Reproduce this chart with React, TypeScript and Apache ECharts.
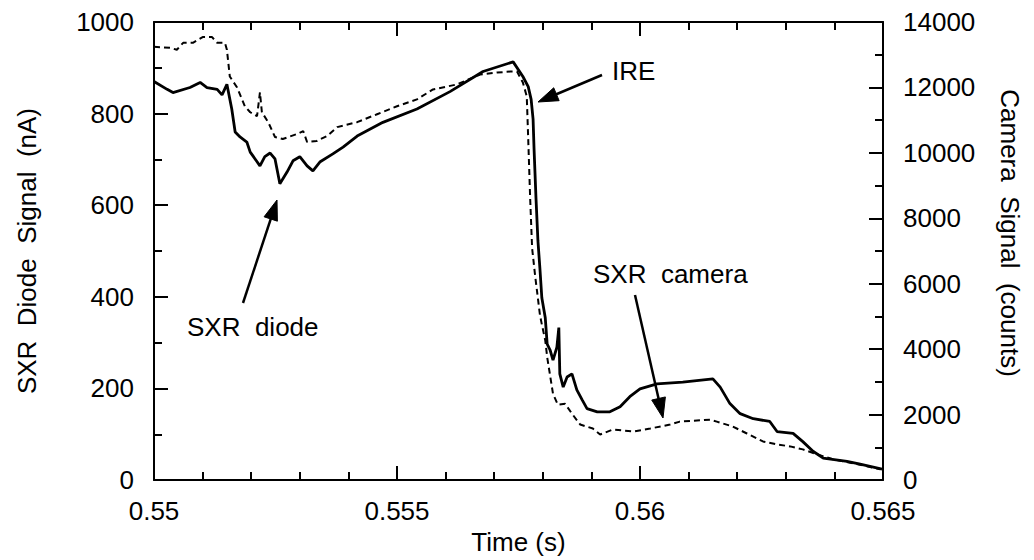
import React, { useEffect, useRef } from "react";
import * as echarts from "echarts";

// SXR diode signal (nA), left axis
const diodeTime = [
  0.55, 0.55027, 0.55039, 0.55074, 0.55095, 0.55109, 0.5513, 0.5514, 0.5515, 0.5516,
  0.55167, 0.55177, 0.55191, 0.55198, 0.55208, 0.55218, 0.55228, 0.55239, 0.55249, 0.55259,
  0.55274, 0.55286, 0.553, 0.55315, 0.55327, 0.55342, 0.55368, 0.55389, 0.55418, 0.55471,
  0.55541, 0.55609, 0.55677, 0.55739, 0.55759, 0.5577, 0.55776, 0.5578, 0.55782, 0.55786,
  0.5579, 0.55794, 0.55798, 0.55805, 0.55809, 0.55815, 0.55821, 0.55829, 0.55833, 0.55835,
  0.55842, 0.5585, 0.5586, 0.5587, 0.55881, 0.55891, 0.55912, 0.55938, 0.55959, 0.55979,
  0.56, 0.56035, 0.56088, 0.5615, 0.56165, 0.56185, 0.56206, 0.56233, 0.56267, 0.56282,
  0.56315, 0.56335, 0.56356, 0.56377, 0.56426, 0.56453, 0.56498,
];
const diodeNA = [
  870, 853, 846, 857, 868, 857, 853, 841, 864, 810,
  760, 749, 738, 716, 701, 686, 706, 714, 701, 647,
  673, 697, 706, 686, 675, 695, 712, 727, 751, 781,
  810, 848, 892, 913, 881, 859, 831, 788, 723, 615,
  522, 463, 398, 355, 297, 284, 262, 290, 333, 232,
  203, 225, 232, 197, 175, 156, 149, 149, 160, 182,
  199, 210, 214, 221, 203, 167, 145, 134, 128, 106,
  102, 84, 63, 48, 41, 35, 24,
];

// SXR camera signal (counts), right axis
const cameraTime = [
  0.55, 0.55033, 0.55047, 0.5506, 0.5508, 0.55101, 0.55119, 0.5513, 0.55146, 0.5515,
  0.55156, 0.55171, 0.55187, 0.55198, 0.55212, 0.55218, 0.55222, 0.55235, 0.55249, 0.55265,
  0.55294, 0.55307, 0.55315, 0.55335, 0.55356, 0.55377, 0.55418, 0.55459, 0.555, 0.55541,
  0.55574, 0.55623, 0.55671, 0.55706, 0.55733, 0.55747, 0.55759, 0.55767, 0.5577, 0.55774,
  0.55778, 0.55784, 0.55788, 0.55794, 0.55798, 0.55805, 0.55809, 0.55821, 0.55831, 0.55846,
  0.5586, 0.55877, 0.55903, 0.55918, 0.55944, 0.55986, 0.56021, 0.56062, 0.56082, 0.56144,
  0.56158, 0.56191, 0.5622, 0.56253, 0.56282, 0.56309, 0.56335, 0.56364, 0.56397, 0.56438,
  0.56467, 0.56494,
];
const cameraCounts = [
  13242, 13212, 13152, 13364, 13364, 13545, 13545, 13364, 13364, 13152,
  12333, 12000, 11424, 11242, 11121, 11848, 11242, 10939, 10485, 10424,
  10576, 10667, 10333, 10364, 10515, 10788, 10939, 11182, 11424, 11636,
  11939, 12091, 12394, 12455, 12485, 12485, 12152, 11727, 10424, 8606,
  7091, 6273, 5788, 5061, 4758, 4273, 3758, 2636, 2303, 2333,
  2030, 1697, 1576, 1394, 1545, 1485, 1576, 1697, 1788, 1848,
  1788, 1636, 1424, 1182, 1091, 1030, 939, 788, 636, 515,
  424, 333,
];

const FONT = "'Liberation Sans', Arial, Helvetica, sans-serif";
const FS = 26;

function arrow(tail: number[], tip: number[], headLen = 20, headHalf = 7) {
  const dx = tip[0] - tail[0];
  const dy = tip[1] - tail[1];
  const len = Math.sqrt(dx * dx + dy * dy);
  const ux = dx / len;
  const uy = dy / len;
  const bx = tip[0] - ux * headLen;
  const by = tip[1] - uy * headLen;
  const px = -uy * headHalf;
  const py = ux * headHalf;
  return [
    {
      type: "line",
      z: 100,
      shape: { x1: tail[0], y1: tail[1], x2: bx + ux * 2, y2: by + uy * 2 },
      style: { stroke: "#000", lineWidth: 2.5 },
    },
    {
      type: "polygon",
      z: 100,
      shape: { points: [tip, [bx + px, by + py], [bx - px, by - py]] },
      style: { fill: "#000", stroke: "#000", lineWidth: 1 },
    },
  ];
}

export default function App() {
  const ref = useRef<HTMLDivElement>(null);
  useEffect(() => {
    if (!ref.current) return;
    const chart = echarts.init(ref.current, undefined, { renderer: "svg" });
    const tickCommon = {
      axisLine: { show: true, onZero: false, lineStyle: { color: "#000", width: 2 } },
      axisTick: { show: true, inside: true, length: 14, lineStyle: { color: "#000", width: 2 } },
      splitLine: { show: false },
      minorSplitLine: { show: false },
    };
    const minor = (n: number) => ({
      show: true,
      splitNumber: n,
      length: 8,
      lineStyle: { color: "#000", width: 2 },
    });
    const xFmt = (v: number) => String(parseFloat(v.toFixed(4)));
    const yFmt = (v: number) => String(Math.round(v));
    const option: any = {
      animation: false,
      backgroundColor: "#fff",
      textStyle: { fontFamily: FONT },
      grid: { left: 154, right: 151, top: 22, bottom: 76, containLabel: false },
      xAxis: [
        {
          type: "value",
          min: 0.55,
          max: 0.565,
          interval: 0.005,
          position: "bottom",
          name: "Time (s)",
          nameLocation: "middle",
          nameGap: 46,
          nameTextStyle: { fontSize: FS, color: "#000", fontFamily: FONT },
          ...tickCommon,
          minorTick: minor(5),
          axisLabel: { fontSize: FS, color: "#000", margin: 18, fontFamily: FONT, formatter: xFmt },
        },
        {
          type: "value",
          min: 0.55,
          max: 0.565,
          interval: 0.005,
          position: "top",
          ...tickCommon,
          minorTick: minor(5),
          axisLabel: { show: false },
        },
      ],
      yAxis: [
        {
          type: "value",
          min: 0,
          max: 1000,
          interval: 200,
          position: "left",
          name: "SXR  Diode  Signal  (nA)",
          nameLocation: "middle",
          nameRotate: 90,
          nameGap: 114,
          nameTextStyle: { fontSize: FS, color: "#000", fontFamily: FONT },
          ...tickCommon,
          minorTick: minor(2),
          axisLabel: { fontSize: FS, color: "#000", margin: 20, fontFamily: FONT, formatter: yFmt },
        },
        {
          type: "value",
          min: 0,
          max: 14000,
          interval: 2000,
          position: "right",
          name: "Camera  Signal  (counts)",
          nameLocation: "middle",
          nameRotate: -90,
          nameGap: 114,
          nameTextStyle: { fontSize: FS, color: "#000", fontFamily: FONT, padding: [0, 36, 0, 0] },
          ...tickCommon,
          minorTick: minor(2),
          axisLabel: { fontSize: FS, color: "#000", margin: 20, fontFamily: FONT, formatter: yFmt },
        },
      ],
      series: [
        {
          name: "SXR camera",
          type: "line",
          xAxisIndex: 0,
          yAxisIndex: 1,
          showSymbol: false,
          symbol: "none",
          data: cameraTime.map((t, i) => [t, cameraCounts[i]]),
          lineStyle: { color: "#000", width: 2, type: [6, 4] },
          z: 2,
        },
        {
          name: "SXR diode",
          type: "line",
          xAxisIndex: 0,
          yAxisIndex: 0,
          showSymbol: false,
          symbol: "none",
          data: diodeTime.map((t, i) => [t, diodeNA[i]]),
          lineStyle: { color: "#000", width: 2.8 },
          z: 3,
        },
      ],
      graphic: [
        ...arrow([602, 75], [538, 102]),
        ...arrow([243, 303], [277, 200]),
        ...arrow([635, 295], [663, 418]),
        {
          type: "text",
          left: 612,
          top: 58,
          z: 100,
          style: { text: "IRE", fontSize: FS, fill: "#000", fontFamily: FONT },
        },
        {
          type: "text",
          left: 187,
          top: 314,
          z: 100,
          style: { text: "SXR  diode", fontSize: FS, fill: "#000", fontFamily: FONT },
        },
        {
          type: "text",
          left: 593,
          top: 261,
          z: 100,
          style: { text: "SXR  camera", fontSize: FS, fill: "#000", fontFamily: FONT },
        },
      ],
    };
    chart.setOption(option);
    return () => chart.dispose();
  }, []);
  return (
    <div
      ref={ref}
      style={{ position: "fixed", left: 0, top: 0, width: 1034, height: 560, background: "#fff" }}
    />
  );
}
